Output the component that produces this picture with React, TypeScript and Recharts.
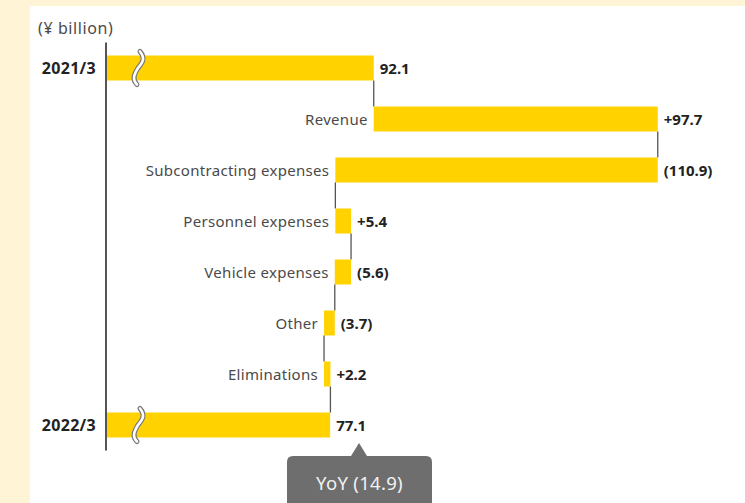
import React from 'react';
import { BarChart, Bar, XAxis, YAxis, LabelList } from 'recharts';

const categories = ['2021/3', 'Revenue', 'Subcontracting expenses', 'Personnel expenses', 'Vehicle expenses', 'Other', 'Eliminations', '2022/3'];
const changes = [92.1, 97.7, -110.9, 5.4, -5.6, -3.7, 2.2, 77.1];
const totals = [true, false, false, false, false, false, false, true];
const unitLabel = '(¥ billion)';
const yoyLabel = 'YoY (14.9)';

const W = 745;
const H = 503;
const M_TOP = 42.5;
const M_BOTTOM = 52.5;
const BAR = 25;
const BAND = (H - M_TOP - M_BOTTOM) / categories.length;
const YELLOW = '#FFD200';
const FONT = '"Noto Sans", sans-serif';

type Row = { name: string; base: number; value: number; change: number; total: boolean; last: boolean };

const data: Row[] = (() => {
  let level = 0;
  return categories.map((name, i) => {
    const v = changes[i];
    let base = 0;
    if (totals[i]) {
      base = 0;
      level = v;
    } else if (v >= 0) {
      base = level;
      level += v;
    } else {
      level += v;
      base = level;
    }
    return { name, base, value: Math.abs(v), change: v, total: totals[i], last: i === categories.length - 1 };
  });
})();

const fmt = (r: Row) => (r.total ? r.change.toFixed(1) : r.change >= 0 ? `+${r.change.toFixed(1)}` : `(${Math.abs(r.change).toFixed(1)})`);

const BarShape = (props: any) => {
  const { x, y, width, height, payload } = props;
  const p: Row = payload;
  const cx = p.total || p.change >= 0 ? x + width : x;
  const bx = x + 32;
  const brk = `M ${bx + 2} ${y - 4} C ${bx + 8} ${y + 3}, ${bx + 4} ${y + 8}, ${bx} ${y + height / 2} C ${bx - 4} ${y + height - 6}, ${bx - 6} ${y + height - 1}, ${bx - 1} ${y + height + 4}`;
  return (
    <g>
      <rect x={x} y={y} width={width} height={height} fill={YELLOW} />
      {!p.last && (
        <line x1={cx} x2={cx} y1={y + height} y2={y + height + (BAND - BAR)} stroke="#555" strokeWidth={1.3} />
      )}
      {p.total && (
        <g>
          <path d={brk} fill="none" stroke="#777" strokeWidth={5} strokeLinecap="round" />
          <path d={brk} fill="none" stroke="#fff" strokeWidth={2.6} strokeLinecap="round" />
        </g>
      )}
    </g>
  );
};

const YTick = (props: any) => {
  const { x, y, payload } = props;
  const isT = totals[categories.indexOf(payload.value)];
  if (!isT) return null;
  return (
    <text x={x - 2} y={y} dy={5.5} textAnchor="end" fontFamily={FONT} fontSize={16} letterSpacing={0.3} fontWeight={700} fill="#222">
      {payload.value}
    </text>
  );
};

const ValueLabel = (props: any) => {
  const { x, y, width, height, index } = props;
  const r = data[index];
  return (
    <text x={x + width + 6} y={y + height / 2} dy={5.5} fontFamily={FONT} fontSize={15} fontWeight={700} fill="#222">
      {fmt(r)}
    </text>
  );
};

const NameLabel = (props: any) => {
  const { x, y, height, index } = props;
  const r = data[index];
  if (r.total) return null;
  return (
    <text x={x - 6} y={y + height / 2} dy={5.5} textAnchor="end" fontFamily={FONT} fontSize={15} letterSpacing={0.3} fill="#4a4a4a">
      {r.name}
    </text>
  );
};

export default function App() {
  return (
    <div style={{ position: 'fixed', left: 0, top: 0, width: W, height: H, background: '#FFF4D6', overflow: 'hidden' }}>
      <div style={{ position: 'absolute', left: 30, top: 6, right: 0, bottom: 0, background: '#FFFFFF' }} />
      <div style={{ position: 'absolute', left: 38, top: 17, fontFamily: FONT, fontSize: 16, letterSpacing: 0.6, color: '#4a4a4a', lineHeight: '22px' }}>
        {unitLabel}
      </div>
      <div style={{ position: 'absolute', left: 0, top: 0 }}>
        <BarChart
          width={W}
          height={H}
          data={data}
          layout="vertical"
          margin={{ top: M_TOP, bottom: M_BOTTOM, left: 0, right: 57.6 }}
          barSize={BAR}
        >
          <XAxis type="number" domain={[0, 200]} hide />
          <YAxis
            type="category"
            dataKey="name"
            width={106}
            axisLine={{ stroke: '#555', strokeWidth: 2 }}
            tickLine={false}
            tick={<YTick />}
            interval={0}
          />
          <Bar dataKey="base" stackId="a" fill="transparent" isAnimationActive={false} />
          <Bar dataKey="value" stackId="a" shape={<BarShape />} isAnimationActive={false}>
            <LabelList dataKey="value" content={<ValueLabel />} />
            <LabelList dataKey="name" content={<NameLabel />} />
          </Bar>
        </BarChart>
      </div>
      <svg style={{ position: 'absolute', left: 0, top: 0 }} width={W} height={H}>
        <path
          d="M 293 456 L 351 456 L 359 443 L 367 456 L 426 456 Q 432 456 432 462 L 432 510 L 287 510 L 287 462 Q 287 456 293 456 Z"
          fill="#6e6e6e"
        />
        <text x={359.5} y={490} textAnchor="middle" fontFamily={FONT} fontSize={18.5} letterSpacing={0.3} fill="#f2f2f2">
          {yoyLabel}
        </text>
      </svg>
    </div>
  );
}
